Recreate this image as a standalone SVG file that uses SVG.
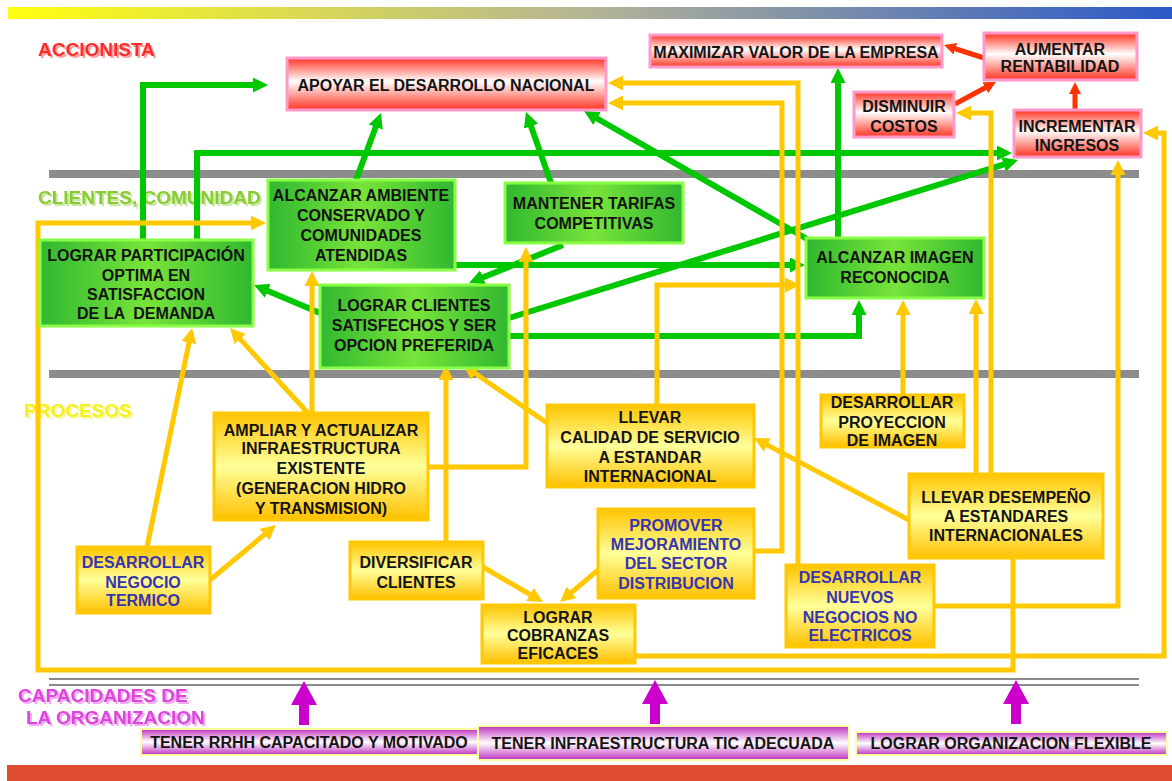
<svg xmlns="http://www.w3.org/2000/svg" width="1172" height="781" viewBox="0 0 1172 781">
<defs>
<style>
.t{font-family:"Liberation Sans",Arial,sans-serif;font-weight:bold;font-size:16px;text-anchor:middle;fill:#141414}
.b{fill:#3535b0}
.lab{font-family:"Liberation Sans",Arial,sans-serif;font-weight:bold;font-size:19px}
.gb{fill:url(#gGreen);stroke:#88ff44;stroke-width:3}
.yb{fill:url(#gYellow);stroke:#ffc800;stroke-width:3}
.rb{fill:url(#gRed);stroke:#ff99cc;stroke-width:3}
.mb{fill:url(#gMag);stroke:#ffffa0;stroke-width:2}
.cg{fill:none;stroke:#00c800;stroke-width:6;marker-end:url(#aG)}
.cy{fill:none;stroke:#ffc800;stroke-width:5;marker-end:url(#aY)}
.cr{fill:none;stroke:#ff3300;stroke-width:5;marker-end:url(#aR)}
</style>
<linearGradient id="top" x1="0" x2="1" y1="0" y2="0">
<stop offset="0" stop-color="#ffff10"/>
<stop offset="0.5" stop-color="#b4b496"/>
<stop offset="1" stop-color="#2a58c8"/>
</linearGradient>
<linearGradient id="gGreen" x1="0" x2="1" y1="0" y2="0">
<stop offset="0" stop-color="#30b830"/>
<stop offset="0.5" stop-color="#78e43a"/>
<stop offset="1" stop-color="#30b830"/>
</linearGradient>
<linearGradient id="gYellow" x1="0" x2="0" y1="0" y2="1">
<stop offset="0" stop-color="#ffc400"/>
<stop offset="0.5" stop-color="#ffff9a"/>
<stop offset="1" stop-color="#ffc000"/>
</linearGradient>
<linearGradient id="gRed" x1="0" x2="0" y1="0" y2="1">
<stop offset="0" stop-color="#ff3322"/>
<stop offset="0.45" stop-color="#ffffff"/>
<stop offset="1" stop-color="#ff3322"/>
</linearGradient>
<linearGradient id="gMag" x1="0" x2="0" y1="0" y2="1">
<stop offset="0" stop-color="#c030c0"/>
<stop offset="0.5" stop-color="#ffffff"/>
<stop offset="1" stop-color="#c030c0"/>
</linearGradient>
<marker id="aG" viewBox="0 0 10 10" refX="2" refY="5" markerWidth="15" markerHeight="15" markerUnits="userSpaceOnUse" orient="auto"><path d="M0,0 L10,5 L0,10 z" fill="#00c800"/></marker>
<marker id="aY" viewBox="0 0 10 10" refX="2" refY="5" markerWidth="15" markerHeight="15" markerUnits="userSpaceOnUse" orient="auto"><path d="M0,0 L10,5 L0,10 z" fill="#ffc800"/></marker>
<marker id="aR" viewBox="0 0 10 10" refX="2" refY="5" markerWidth="12" markerHeight="12" markerUnits="userSpaceOnUse" orient="auto"><path d="M0,0 L10,5 L0,10 z" fill="#ff3300"/></marker>
<path id="magArrow" d="M0,0 L13,24 L5,24 L5,44 L-5,44 L-5,24 L-13,24 Z" fill="#cc00cc"/>
<filter id="sh" x="-10%" y="-30%" width="120%" height="160%">
<feOffset in="SourceGraphic" dx="2" dy="2" result="o"/>
<feComponentTransfer in="o" result="oa"><feFuncA type="linear" slope="0.45"/></feComponentTransfer>
<feMerge><feMergeNode in="oa"/><feMergeNode in="SourceGraphic"/></feMerge>
</filter>
</defs>

<g id="background">
<rect x="8" y="7" width="1164" height="12" fill="url(#top)"/>
<rect x="7" y="765" width="1165" height="16" fill="#dd4c2e"/>
<rect x="49" y="170" width="1090" height="8" fill="#8c8c8c"/>
<rect x="49" y="370" width="1090" height="8" fill="#8c8c8c"/>
<line x1="49" y1="679" x2="1139" y2="679" stroke="#8a8a8a" stroke-width="2"/>
<line x1="49" y1="685" x2="1139" y2="685" stroke="#8a8a8a" stroke-width="2"/>
</g>

<g id="labels">
<text class="lab" x="38" y="56" fill="#ff2a2a" filter="url(#sh)">ACCIONISTA</text>
<text class="lab" x="38" y="204" fill="#88cc33" filter="url(#sh)">CLIENTES, COMUNIDAD</text>
<text class="lab" x="24" y="417" fill="#f4f020" filter="url(#sh)">PROCESOS</text>
<text class="lab" x="18" y="702" fill="#dd44dd" filter="url(#sh)">CAPACIDADES DE</text>
<text class="lab" x="26" y="724" fill="#dd44dd" filter="url(#sh)">LA ORGANIZACION</text>
</g>

<g id="connectors">
<path class="cg" d="M143,240 V85 H256"/>
<path class="cg" d="M197,240 V153 H1000"/>
<path class="cg" d="M356,180 L376.8,124.2"/>
<path class="cg" d="M551,183 L530,123.3"/>
<path class="cg" d="M814,243 L594.4,117"/>
<path class="cg" d="M838,240 V80"/>
<path class="cg" d="M455,265 H793"/>
<path class="cg" d="M563,245 L480.1,278.5"/>
<path class="cg" d="M509,318 L1006.5,163.6"/>
<path class="cg" d="M509,336 H859 V312"/>
<path class="cg" d="M320,313 L265,289.7"/>

<path class="cr" d="M984,58 L953.1,48"/>
<path class="cr" d="M955,104 L987.5,86.5"/>
<path class="cr" d="M1075,110 V91.6"/>

<path class="cy" d="M1013,558 V670 H38 V223 H254"/>
<path class="cy" d="M147,547 L189.6,339.7"/>
<path class="cy" d="M210,580 L266.8,532.7"/>
<path class="cy" d="M312,413 V283"/>
<path class="cy" d="M308,413 L238.1,336.9"/>
<path class="cy" d="M428,467 H526 V259"/>
<path class="cy" d="M446,542 V377"/>
<path class="cy" d="M547,423 L472.9,371.8"/>
<path class="cy" d="M657,405 V285 H788"/>
<path class="cy" d="M483,567 L532.6,596"/>
<path class="cy" d="M598,570 L569.2,594.3"/>
<path class="cy" d="M754,551 H782 V103 H620"/>
<path class="cy" d="M798,565 V83 H620"/>
<path class="cy" d="M909,520 L764.6,443.6"/>
<path class="cy" d="M903,395 V312"/>
<path class="cy" d="M976,474 V311"/>
<path class="cy" d="M991,474 V113 H968"/>
<path class="cy" d="M635,656 H1164 V133 H1155"/>
<path class="cy" d="M934,606 H1118 V172"/>

<use href="#magArrow" x="304" y="681"/>
<use href="#magArrow" x="655" y="680"/>
<use href="#magArrow" x="1016" y="680"/>
</g>

<g id="n-apoyar"><rect class="rb" x="287" y="58" width="319" height="52"/><text class="t" x="446" y="91">APOYAR EL DESARROLLO NACIONAL</text></g>
<g id="n-maximizar"><rect class="rb" x="650" y="35" width="292" height="32"/><text class="t" x="796" y="58">MAXIMIZAR VALOR DE LA EMPRESA</text></g>
<g id="n-aumentar"><rect class="rb" x="984" y="33" width="153" height="47"/><text class="t" x="1060" y="55">AUMENTAR</text><text class="t" x="1060" y="72">RENTABILIDAD</text></g>
<g id="n-disminuir"><rect class="rb" x="854" y="92" width="100" height="45"/><text class="t" x="904" y="112">DISMINUIR</text><text class="t" x="904" y="132">COSTOS</text></g>
<g id="n-incrementar"><rect class="rb" x="1014" y="110" width="127" height="47"/><text class="t" x="1077" y="132">INCREMENTAR</text><text class="t" x="1077" y="151">INGRESOS</text></g>

<g id="n-participacion"><rect class="gb" x="40" y="240" width="213" height="86"/><text class="t" x="146" y="261">LOGRAR PARTICIPACIÓN</text><text class="t" x="146" y="281">OPTIMA EN</text><text class="t" x="146" y="300">SATISFACCION</text><text class="t" x="146" y="319" xml:space="preserve">DE LA  DEMANDA</text></g>
<g id="n-ambiente"><rect class="gb" x="268" y="180" width="187" height="90"/><text class="t" x="361" y="201">ALCANZAR AMBIENTE</text><text class="t" x="361" y="221">CONSERVADO Y</text><text class="t" x="361" y="241">COMUNIDADES</text><text class="t" x="361" y="261">ATENDIDAS</text></g>
<g id="n-tarifas"><rect class="gb" x="505" y="183" width="178" height="60"/><text class="t" x="594" y="209">MANTENER TARIFAS</text><text class="t" x="594" y="229">COMPETITIVAS</text></g>
<g id="n-clientes"><rect class="gb" x="320" y="285" width="189" height="83"/><text class="t" x="414" y="311">LOGRAR CLIENTES</text><text class="t" x="414" y="331">SATISFECHOS Y SER</text><text class="t" x="414" y="351">OPCION PREFERIDA</text></g>
<g id="n-imagen"><rect class="gb" x="806" y="238" width="178" height="60"/><text class="t" x="895" y="263">ALCANZAR IMAGEN</text><text class="t" x="895" y="283">RECONOCIDA</text></g>

<g id="n-ampliar"><rect class="yb" x="214" y="413" width="214" height="107"/><text class="t" x="321" y="436">AMPLIAR Y ACTUALIZAR</text><text class="t" x="321" y="454">INFRAESTRUCTURA</text><text class="t" x="321" y="474">EXISTENTE</text><text class="t" x="321" y="494">(GENERACION HIDRO</text><text class="t" x="321" y="514">Y TRANSMISION)</text></g>
<g id="n-calidad"><rect class="yb" x="547" y="405" width="207" height="82"/><text class="t" x="650" y="423">LLEVAR</text><text class="t" x="650" y="443">CALIDAD DE SERVICIO</text><text class="t" x="650" y="463">A ESTANDAR</text><text class="t" x="650" y="482">INTERNACIONAL</text></g>
<g id="n-proyeccion"><rect class="yb" x="821" y="395" width="143" height="52"/><text class="t" x="892" y="408">DESARROLLAR</text><text class="t" x="892" y="428">PROYECCION</text><text class="t" x="892" y="446">DE IMAGEN</text></g>
<g id="n-desempeno"><rect class="yb" x="909" y="474" width="194" height="84"/><text class="t" x="1006" y="503">LLEVAR DESEMPEÑO</text><text class="t" x="1006" y="522">A ESTANDARES</text><text class="t" x="1006" y="541">INTERNACIONALES</text></g>
<g id="n-termico"><rect class="yb" x="77" y="547" width="133" height="66"/><text class="t b" x="143" y="568">DESARROLLAR</text><text class="t b" x="143" y="588">NEGOCIO</text><text class="t b" x="143" y="606">TERMICO</text></g>
<g id="n-diversificar"><rect class="yb" x="350" y="542" width="133" height="57"/><text class="t" x="416" y="568">DIVERSIFICAR</text><text class="t" x="416" y="588">CLIENTES</text></g>
<g id="n-promover"><rect class="yb" x="598" y="509" width="156" height="89"/><text class="t b" x="676" y="531">PROMOVER</text><text class="t b" x="676" y="550">MEJORAMIENTO</text><text class="t b" x="676" y="569">DEL SECTOR</text><text class="t b" x="676" y="589">DISTRIBUCION</text></g>
<g id="n-cobranzas"><rect class="yb" x="482" y="605" width="153" height="58"/><text class="t" x="558" y="623">LOGRAR</text><text class="t" x="558" y="641">COBRANZAS</text><text class="t" x="558" y="659">EFICACES</text></g>
<g id="n-nuevos"><rect class="yb" x="786" y="565" width="148" height="82"/><text class="t b" x="860" y="583">DESARROLLAR</text><text class="t b" x="860" y="603">NUEVOS</text><text class="t b" x="860" y="623">NEGOCIOS NO</text><text class="t b" x="860" y="641">ELECTRICOS</text></g>

<g id="n-rrhh"><rect class="mb" x="141" y="729" width="337" height="26"/><text class="t" x="309" y="748">TENER RRHH CAPACITADO Y MOTIVADO</text></g>
<g id="n-tic"><rect class="mb" x="478" y="726" width="371" height="34"/><text class="t" x="663" y="749">TENER INFRAESTRUCTURA TIC ADECUADA</text></g>
<g id="n-flexible"><rect class="mb" x="856" y="732" width="311" height="23"/><text class="t" x="1011" y="749">LOGRAR ORGANIZACION FLEXIBLE</text></g>
</svg>
